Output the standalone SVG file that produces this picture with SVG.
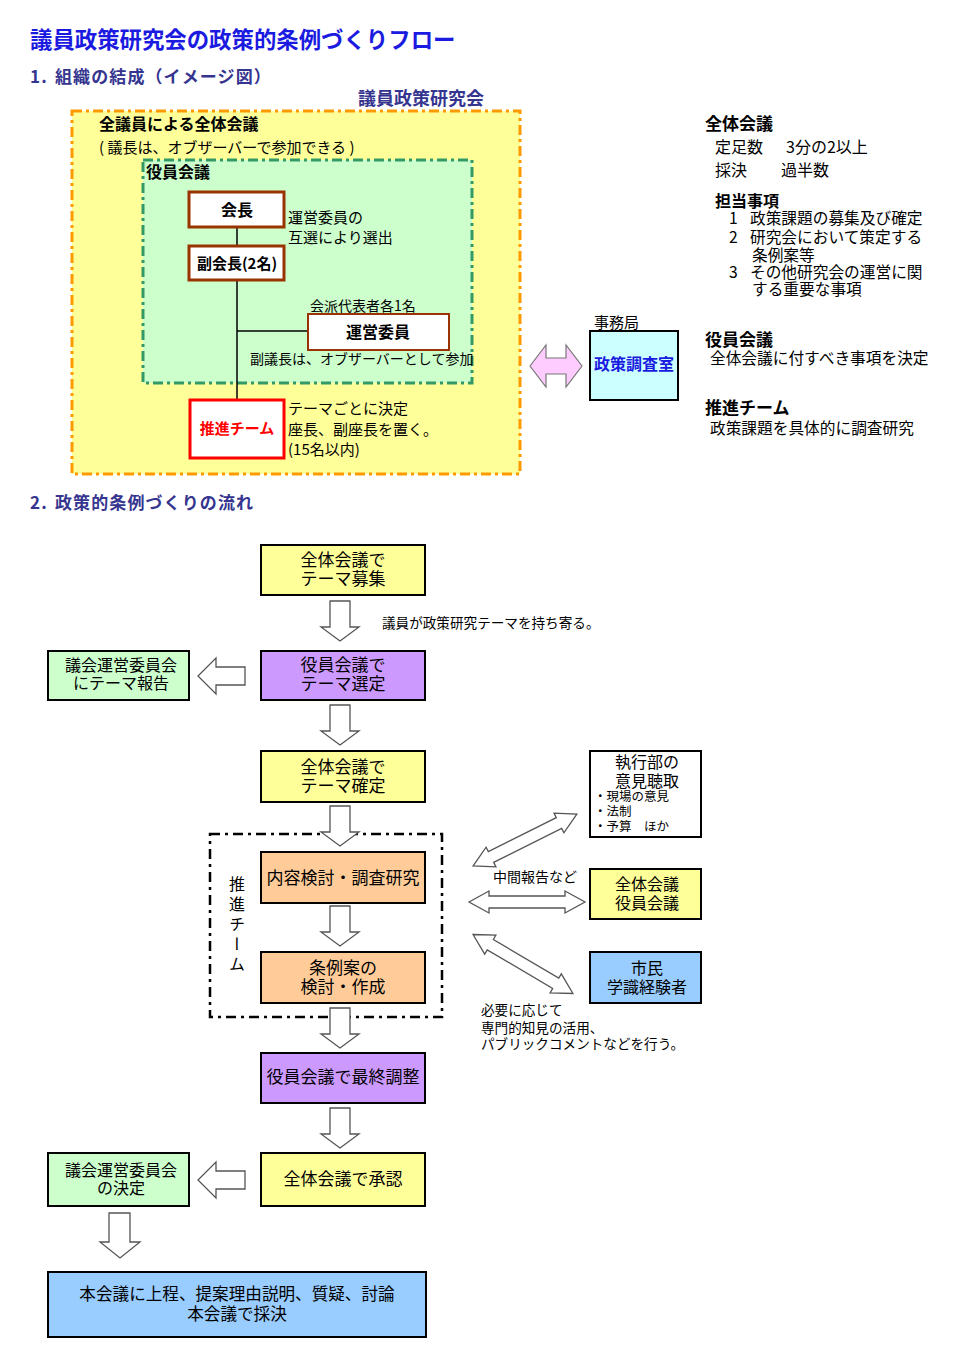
<svg xmlns="http://www.w3.org/2000/svg" width="971" height="1369" viewBox="0 0 971 1369">
<defs>
<style>
text{font-family:"Noto Sans CJK JP","Liberation Sans",sans-serif;fill:#000}
.title{font-size:22.4px;font-weight:bold;fill:#1a1ae0}
.sec{font-size:17px;font-weight:bold;fill:#35358f;letter-spacing:1.1px}
.b{font-weight:bold}
.t15{font-size:15px}
.t14{font-size:14px}
.t16{font-size:16px}
.t17{font-size:17px}
.n{font-size:15.7px}
.box{stroke:#000;stroke-width:2}
.org{fill:#fff;stroke:#993300}
.hollow{fill:#fff;stroke:#555;stroke-width:1.3}
.mid{text-anchor:middle}
</style>
<polygon id="darr" points="-10,0 10,0 10,26 19,26 0,40 -19,26 -10,26"/>
<polygon id="larr" points="0,-9 0,9 -29,9 -29,18 -47,0 -29,-18 -29,-9"/>
<polygon id="dbl" points="-58,0 -38,-11 -38,-6 38,-6 38,-11 58,0 38,11 38,6 -38,6 -38,11"/>
</defs>
<rect width="971" height="1369" fill="#fff"/>

<text class="title" x="30" y="48">議員政策研究会の政策的条例づくりフロー</text>
<text class="sec" x="30" y="83">1.</text>
<text class="sec" x="55" y="83">組織の結成（イメージ図）</text>

<g id="kenkyukai">
<rect x="72" y="111" width="448" height="363" fill="#ffff99" stroke="#ff9900" stroke-width="3" stroke-dasharray="10,4,3,4"/>
<text x="358" y="105" font-size="18" style="fill:#35358f" class="b">議員政策研究会</text>
<text class="t16 b" x="99" y="130">全議員による全体会議</text>
<text class="t15" x="99" y="153">( 議長は、オブザーバーで参加できる )</text>
</g>

<g id="yakuin">
<rect x="143" y="160" width="329" height="223" fill="#ccffcc" stroke="#339966" stroke-width="3" stroke-dasharray="10,4,3,4"/>
<text class="t16 b" x="146" y="178">役員会議</text>
</g>

<g id="connectors-org" stroke="#000" stroke-width="1.5">
<line x1="237" y1="227" x2="237" y2="247"/>
<line x1="237" y1="280" x2="237" y2="401"/>
<line x1="237" y1="331" x2="308" y2="331"/>
</g>

<g id="kaicho">
<rect class="org" x="189" y="192" width="95" height="35" stroke-width="3"/>
<text class="t16 b mid" x="237" y="216">会長</text>
<text class="t15" x="288" y="223">運営委員の</text>
<text class="t15" x="288" y="243">互選により選出</text>
</g>

<g id="fukukaicho">
<rect class="org" x="189" y="246" width="95" height="34" stroke-width="3"/>
<text class="t15 b mid" x="237" y="269">副会長(2名)</text>
</g>

<g id="uneiiin">
<text class="t14" x="310" y="311">会派代表者各1名</text>
<rect class="org" x="308" y="314" width="141" height="36" stroke-width="2"/>
<text class="t16 b mid" x="378" y="338">運営委員</text>
<text class="t14" x="250" y="364">副議長は、オブザーバーとして参加</text>
</g>

<g id="suishin">
<rect x="190" y="400" width="94" height="58" fill="#fff" stroke="#ff0000" stroke-width="3"/>
<text class="t15 b mid" x="237" y="434" style="fill:#ff0000">推進チーム</text>
<text class="t15" x="288" y="414">テーマごとに決定</text>
<text class="t15" x="288" y="435">座長、副座長を置く。</text>
<text class="t15" x="288" y="455">(15名以内)</text>
</g>

<g id="pink-arrow">
<polygon points="530,366 546,345 546,358 566,358 566,345 582,366 566,387 566,374 546,374 546,387" fill="#ffccff" stroke="#777" stroke-width="1.2"/>
</g>

<g id="jimukyoku">
<text class="t15" x="594" y="328">事務局</text>
<rect x="590" y="331" width="88" height="69" fill="#ccffff" stroke="#000" stroke-width="2"/>
<text class="t16 b mid" x="634" y="370" style="fill:#1a1ae0">政策調査室</text>
</g>

<g id="notes">
<text class="t17 b" x="705" y="130">全体会議</text>
<text class="t16" x="715" y="153">定足数</text>
<text class="t16" x="786" y="153">3分の2以上</text>
<text class="t16" x="715" y="176">採決</text>
<text class="t16" x="781" y="176">過半数</text>
<text class="t16 b" x="715" y="207">担当事項</text>
<text class="n" x="729" y="224">1</text>
<text class="n" x="750" y="224">政策課題の募集及び確定</text>
<text class="n" x="729" y="243">2</text>
<text class="n" x="750" y="243">研究会において策定する</text>
<text class="n" x="752" y="261">条例案等</text>
<text class="n" x="729" y="278">3</text>
<text class="n" x="750" y="278">その他研究会の運営に関</text>
<text class="n" x="752" y="295">する重要な事項</text>
<text class="t17 b" x="705" y="346">役員会議</text>
<text class="n" x="710" y="364">全体会議に付すべき事項を決定</text>
<text class="t17 b" x="705" y="414">推進チーム</text>
<text class="n" x="710" y="434">政策課題を具体的に調査研究</text>
</g>

<text class="sec" x="30" y="509">2.</text>
<text class="sec" x="55" y="509">政策的条例づくりの流れ</text>

<g id="suishin-frame">
<rect x="210" y="834" width="232" height="183" fill="none" stroke="#000" stroke-width="2.5" stroke-dasharray="10,5,3,5"/>
<text class="t16" x="237" y="876" style="writing-mode:vertical-rl;letter-spacing:4px">推進チーム</text>
</g>

<g id="connectors">
<use href="#darr" class="hollow" x="340" y="601"/>
<use href="#darr" class="hollow" x="340" y="705"/>
<use href="#darr" class="hollow" x="340" y="806"/>
<use href="#darr" class="hollow" x="340" y="906"/>
<use href="#darr" class="hollow" x="340" y="1008"/>
<use href="#darr" class="hollow" x="340" y="1108"/>
<use href="#larr" class="hollow" x="245" y="676"/>
<use href="#larr" class="hollow" x="245" y="1180"/>
<polygon class="hollow" points="109,1213 130,1213 130,1242 140,1242 120,1258 100,1242 109,1242"/>
<use href="#dbl" class="hollow" transform="translate(525,840) rotate(-26.6)"/>
<use href="#dbl" class="hollow" transform="translate(527,902)"/>
<use href="#dbl" class="hollow" transform="translate(523,964) rotate(30.6)"/>
<text x="382" y="628" style="font-size:13.6px">議員が政策研究テーマを持ち寄る。</text>
<text class="t14" x="493" y="882">中間報告など</text>
<text x="481" y="1015" style="font-size:13.6px">必要に応じて</text>
<text x="481" y="1033" style="font-size:13.6px">専門的知見の活用、</text>
<text x="481" y="1049" style="font-size:13.6px">パブリックコメントなどを行う。</text>
</g>

<g id="n1">
<rect class="box" x="261" y="545" width="164" height="50" fill="#ffff99"/>
<text class="t17 mid" x="343" y="566">全体会議で</text>
<text class="t17 mid" x="343" y="585">テーマ募集</text>
</g>
<g id="n2">
<rect class="box" x="261" y="651" width="164" height="49" fill="#cc99ff"/>
<text class="t17 mid" x="343" y="671">役員会議で</text>
<text class="t17 mid" x="343" y="690">テーマ選定</text>
</g>
<g id="n2b">
<rect class="box" x="48" y="651" width="141" height="49" fill="#ccffcc"/>
<text class="t16 mid" x="121" y="671">議会運営委員会</text>
<text class="t16 mid" x="121" y="689">にテーマ報告</text>
</g>
<g id="n3">
<rect class="box" x="261" y="751" width="164" height="51" fill="#ffff99"/>
<text class="t17 mid" x="343" y="773">全体会議で</text>
<text class="t17 mid" x="343" y="792">テーマ確定</text>
</g>
<g id="n4">
<rect class="box" x="261" y="852" width="164" height="51" fill="#ffcc99"/>
<text class="t17 mid" x="343" y="884">内容検討・調査研究</text>
</g>
<g id="n5">
<rect class="box" x="261" y="952" width="164" height="51" fill="#ffcc99"/>
<text class="t17 mid" x="343" y="974">条例案の</text>
<text class="t17 mid" x="343" y="993">検討・作成</text>
</g>
<g id="n6">
<rect class="box" x="261" y="1053" width="164" height="50" fill="#cc99ff"/>
<text class="t17 mid" x="343" y="1083">役員会議で最終調整</text>
</g>
<g id="n7">
<rect class="box" x="261" y="1153" width="164" height="53" fill="#ffff99"/>
<text class="t17 mid" x="343" y="1185">全体会議で承認</text>
</g>
<g id="n7b">
<rect class="box" x="48" y="1153" width="141" height="53" fill="#ccffcc"/>
<text class="t16 mid" x="121" y="1176">議会運営委員会</text>
<text class="t16 mid" x="121" y="1194">の決定</text>
</g>
<g id="n8">
<rect class="box" x="48" y="1272" width="378" height="65" fill="#99ccff"/>
<text class="mid" x="237" y="1300" style="font-size:16.6px">本会議に上程、提案理由説明、質疑、討論</text>
<text class="mid" x="237" y="1320" style="font-size:16.6px">本会議で採決</text>
</g>
<g id="r1">
<rect class="box" x="590" y="751" width="111" height="86" fill="#fff"/>
<text class="t16 mid" x="647" y="768">執行部の</text>
<text class="t16 mid" x="647" y="787">意見聴取</text>
<text x="594" y="801" style="font-size:12.5px">・現場の意見</text>
<text x="594" y="816" style="font-size:12.5px">・法制</text>
<text x="594" y="831" style="font-size:12.5px">・予算　ほか</text>
</g>
<g id="r2">
<rect class="box" x="590" y="869" width="111" height="50" fill="#ffff99"/>
<text class="t16 mid" x="647" y="890">全体会議</text>
<text class="t16 mid" x="647" y="909">役員会議</text>
</g>
<g id="r3">
<rect class="box" x="590" y="952" width="111" height="51" fill="#99ccff"/>
<text class="t16 mid" x="647" y="974">市民</text>
<text class="t16 mid" x="647" y="993">学識経験者</text>
</g>
</svg>
